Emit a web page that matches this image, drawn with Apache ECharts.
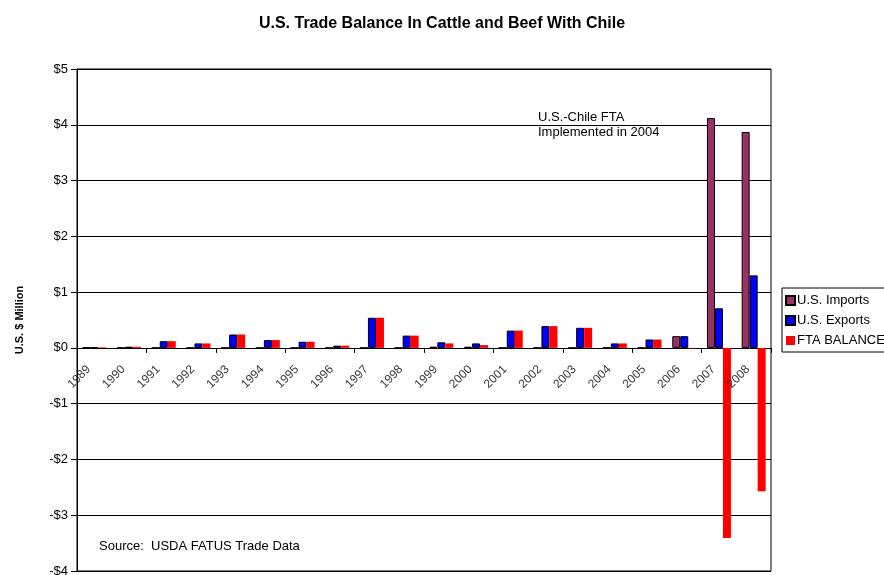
<!DOCTYPE html>
<html>
<head>
<meta charset="utf-8">
<script src="https://cdn.jsdelivr.net/npm/echarts@6/dist/echarts.min.js"></script>
<style>
  html, body { margin: 0; padding: 0; background: #fff; }
  #chart { width: 884px; height: 575px; }
</style>
</head>
<body>
<div id="chart"></div>
<script>
// Years on the category axis
const years = ['1989', '1990', '1991', '1992', '1993', '1994', '1995', '1996', '1997', '1998',
  '1999', '2000', '2001', '2002', '2003', '2004', '2005', '2006', '2007', '2008'];

// U.S. $ million
const usImports = [0.01, 0, 0, 0, 0, 0, 0, 0, 0, 0,
  0.02, 0.02, 0, 0, 0, 0, 0, 0.21, 4.12, 3.87];
const usExports = [0.01, 0.02, 0.12, 0.08, 0.24, 0.14, 0.11, 0.04, 0.54, 0.22,
  0.10, 0.08, 0.31, 0.39, 0.36, 0.08, 0.15, 0.21, 0.71, 1.30];
const ftaBalance = [0.01, 0.02, 0.12, 0.08, 0.24, 0.14, 0.11, 0.04, 0.54, 0.22,
  0.08, 0.05, 0.31, 0.39, 0.36, 0.08, 0.15, -0.01, -3.41, -2.57];

// Y axis ticks
const yMin = -4, yMax = 5, yStep = 1;

const FONT = '"Liberation Sans", Arial, sans-serif';

const chart = echarts.init(document.getElementById('chart'), null, { renderer: 'canvas' });

chart.setOption({
  animation: false,
  backgroundColor: '#fff',
  textStyle: { fontFamily: FONT },
  title: {
    text: 'U.S. Trade Balance In Cattle and Beef With Chile',
    left: 'center',
    top: 11,
    textStyle: { fontFamily: FONT, fontSize: 16, fontWeight: 'bold', color: '#000' }
  },
  grid: {
    left: 77, right: 113, top: 69, bottom: 4,
    outerBoundsMode: 'none', containLabel: false,
    show: true, borderColor: '#000', borderWidth: 1, backgroundColor: 'transparent'
  },
  legend: {
    orient: 'vertical',
    left: 782, top: 288,
    itemWidth: 9, itemHeight: 9, itemGap: 7,
    padding: [6, 6, 5, 3],
    borderColor: '#000', borderWidth: 1, backgroundColor: '#fff',
    icon: 'rect',
    textStyle: { fontFamily: FONT, fontSize: 13, color: '#000', padding: [0, 0, 0, -3] },
    data: ['U.S. Imports', 'U.S. Exports', 'FTA BALANCE']
  },
  xAxis: {
    type: 'category',
    data: years,
    axisLine: { onZero: true, lineStyle: { color: '#000', width: 1 } },
    axisTick: { show: true, length: 5, lineStyle: { color: '#000' } },
    axisLabel: { show: false },
    splitLine: { show: false }
  },
  yAxis: {
    type: 'value',
    min: yMin, max: yMax, interval: yStep,
    name: 'U.S. $ Million',
    nameLocation: 'middle',
    nameRotate: 90,
    nameGap: 52,
    nameTextStyle: { fontFamily: FONT, fontSize: 11, fontWeight: 'bold', color: '#000' },
    axisLine: { show: true, lineStyle: { color: '#000' } },
    axisTick: { show: true, length: 6, lineStyle: { color: '#000' } },
    axisLabel: {
      fontSize: 13, color: '#000', fontFamily: FONT, margin: 9,
      formatter: v => (v < 0 ? '-$' + (-v) : '$' + v)
    },
    splitLine: { show: true, lineStyle: { color: '#000', width: 1 } }
  },
  series: [
    {
      name: 'U.S. Imports', type: 'bar', data: usImports,
      barWidth: 8, barGap: '0%',
      itemStyle: { color: '#993366', borderColor: '#000', borderWidth: 1 }
    },
    {
      name: 'U.S. Exports', type: 'bar', data: usExports,
      barWidth: 8, barGap: '0%',
      itemStyle: { color: '#0000ff', borderColor: '#000', borderWidth: 1 }
    },
    {
      name: 'FTA BALANCE', type: 'bar', data: ftaBalance,
      barWidth: 8, barGap: '0%',
      itemStyle: { color: '#ff0000' }
    },
    {
      // year labels sitting on the zero line, slanted
      name: 'year labels', type: 'scatter',
      data: years.map(y => [y, 0]),
      symbolSize: 0, silent: true, z: 5,
      label: {
        show: true, position: 'bottom', distance: 14, offset: [-8, 0],
        formatter: p => p.value[0],
        rotate: 45, align: 'right', verticalAlign: 'middle',
        fontFamily: FONT, fontSize: 12, color: '#000'
      }
    }
  ],
  graphic: [
    {
      type: 'text', left: 538, top: 110,
      style: {
        text: 'U.S.-Chile FTA\nImplemented in 2004',
        font: '13px ' + FONT, fill: '#000', lineHeight: 15
      }
    },
    {
      type: 'text', left: 99, top: 540,
      style: {
        text: 'Source:  USDA FATUS Trade Data',
        font: '13px ' + FONT, fill: '#000'
      }
    }
  ]
});
</script>
</body>
</html>
